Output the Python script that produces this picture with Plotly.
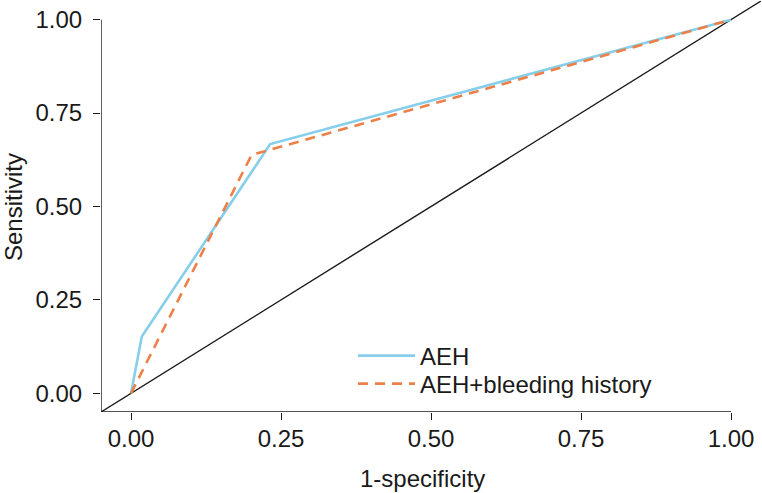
import plotly.graph_objects as go

# ROC curve data (1-specificity, sensitivity)
aeh_fpr = [0.0, 0.018, 0.232, 1.0]
aeh_tpr = [0.0, 0.152, 0.667, 1.0]
aehb_fpr = [0.0, 0.201, 1.0]
aehb_tpr = [0.0, 0.638, 1.0]
ref_line = [-0.05, 1.05]

tick_vals = [0.0, 0.25, 0.5, 0.75, 1.0]
tick_text = ["0.00", "0.25", "0.50", "0.75", "1.00"]

FONT = "Liberation Sans, Arial, sans-serif"
FS = 24
INK = "#1a1a1a"

fig = go.Figure()
fig.add_trace(go.Scatter(x=ref_line, y=ref_line, mode="lines",
                         line=dict(color=INK, width=1.4),
                         showlegend=False, hoverinfo="skip"))
fig.add_trace(go.Scatter(x=aeh_fpr, y=aeh_tpr, mode="lines", name="AEH",
                         legend="legend",
                         line=dict(color="#87CEEB", width=2.6)))
fig.add_trace(go.Scatter(x=aehb_fpr, y=aehb_tpr, mode="lines",
                         name="AEH+bleeding history", legend="legend2",
                         line=dict(color="#EC8047", width=2.6, dash="10px,7px")))

axis_common = dict(range=[-0.05, 1.05], tickvals=tick_vals, ticktext=tick_text,
                   showgrid=False, zeroline=False, showline=False,
                   ticks="outside", ticklen=7, tickwidth=1.4, tickcolor=INK,
                   tickfont=dict(family=FONT, size=FS, color=INK))

leg_common = dict(xanchor="left", yanchor="middle", bgcolor="rgba(0,0,0,0)",
                  font=dict(family=FONT, size=FS, color=INK), itemwidth=57)

fig.update_layout(
    width=762, height=493,
    margin=dict(l=101, r=1, t=1, b=81),
    paper_bgcolor="white", plot_bgcolor="white",
    font=dict(family=FONT, size=FS, color=INK),
    xaxis=dict(**axis_common, ticklabelstandoff=-2),
    yaxis=dict(**axis_common, ticklabelstandoff=6),
    legend=dict(x=(353 - 101) / 660, y=(412 - 356) / 411, **leg_common),
    legend2=dict(x=(353 - 101) / 660, y=(412 - 384) / 411, **leg_common),
    shapes=[
        dict(type="line", xref="x", yref="y", x0=-0.05, x1=-0.05, y0=-0.05, y1=1.0,
             line=dict(color=INK, width=1.4)),
        dict(type="line", xref="x", yref="y", x0=-0.05, x1=1.0, y0=-0.05, y1=-0.05,
             line=dict(color=INK, width=1.4)),
    ],
    annotations=[
        dict(text="1-specificity", xref="paper", yref="paper", x=(422 - 101) / 660,
             y=(412 - 479) / 411, xanchor="center", yanchor="middle", showarrow=False,
             font=dict(family=FONT, size=FS, color=INK)),
        dict(text="Sensitivity", xref="paper", yref="paper", x=(13 - 101) / 660,
             y=(412 - 207) / 411, xanchor="center", yanchor="middle", showarrow=False,
             textangle=-90, font=dict(family=FONT, size=FS, color=INK)),
    ],
)

fig.write_html("out.html", config={"displayModeBar": False},
               post_script="document.body.style.margin='0px';"
                           "document.body.style.overflow='hidden';")
